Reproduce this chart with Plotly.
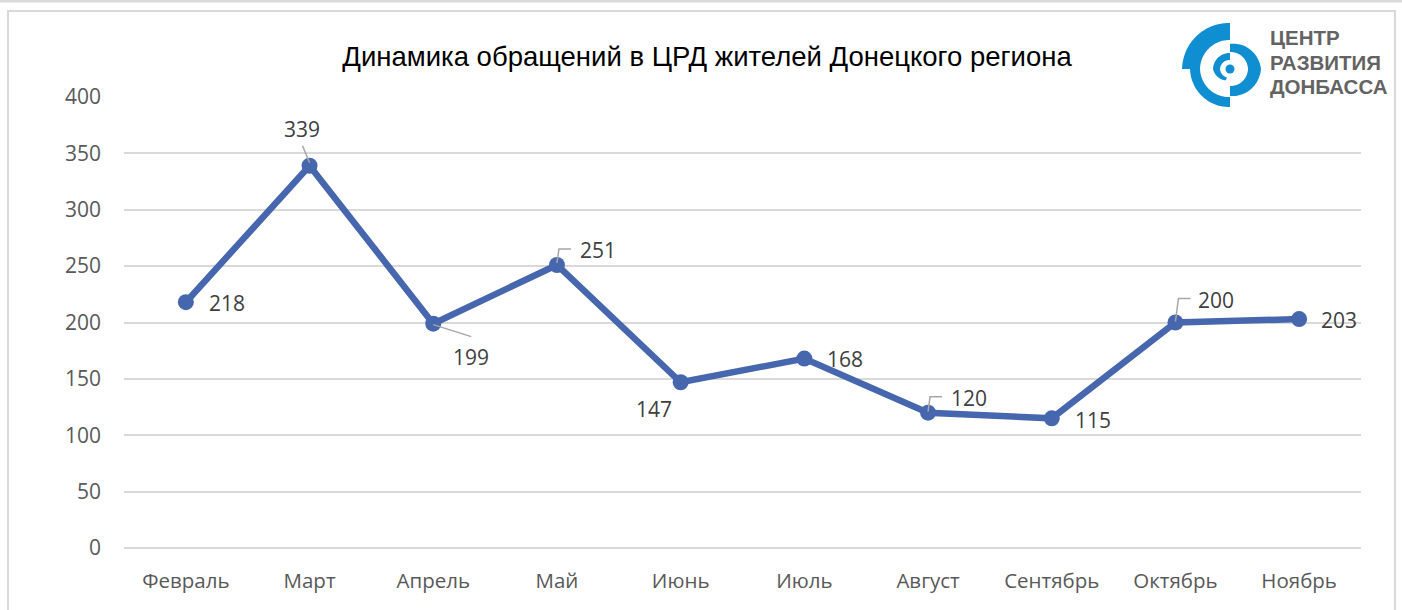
import math
import plotly.graph_objects as go

months = ["Февраль", "Март", "Апрель", "Май", "Июнь", "Июль", "Август", "Сентябрь", "Октябрь", "Ноябрь"]
values = [218, 339, 199, 251, 147, 168, 120, 115, 200, 203]
y_ticks = [0, 50, 100, 150, 200, 250, 300, 350, 400]
title_text = "Динамика обращений в ЦРД жителей Донецкого региона"
logo_lines = ["ЦЕНТР", "РАЗВИТИЯ", "ДОНБАССА"]

# label offsets from each point, in pixels (x right, y up)
label_dx = [41, -8, 38, 41, -27, 41, 41, 41, 41, 40]
label_dy = [-1, 37, -33, 15, -27, 0, 15, -2, 23, -1]
# leader lines, in pixels from the point
leaders = {
    1: [(0, 3), (-7, 20)],
    2: [(0, -1), (38, -13)],
    3: [(0, 2), (2, 16), (14, 16)],
    6: [(0, 1), (2, 16), (14, 16)],
    8: [(0, 1), (3, 24), (15, 24)],
}

W, H = 1402, 610
ML, MR, MT, MB = 124, 41, 97, 62
BLUE = "#4667AE"
LOGO = "#0F8FD2"
GRID = "#D9D9D9"


def px(x):
    return (x - ML) / (W - ML - MR)


def py(y):
    return 1 - (y - MT) / (H - MT - MB)


def sector(cx, cy, r_out, r_in, a0, a1):
    """Annular sector in page pixels, as a paper-referenced SVG path."""
    n = 24
    pts = []
    for i in range(n + 1):
        t = a0 + (a1 - a0) * i / n
        r = r_out[0] + (r_out[1] - r_out[0]) * i / n
        pts.append((cx + r * math.cos(math.radians(t)), cy - r * math.sin(math.radians(t))))
    for i in range(n, -1, -1):
        t = a0 + (a1 - a0) * i / n
        r = r_in[0] + (r_in[1] - r_in[0]) * i / n
        pts.append((cx + r * math.cos(math.radians(t)), cy - r * math.sin(math.radians(t))))
    return "M" + " L".join(f"{px(a):.5f},{py(b):.5f}" for a, b in pts) + " Z"


fig = go.Figure()
fig.add_trace(go.Scatter(
    x=list(range(len(months))), y=values, mode="lines+markers",
    line=dict(color=BLUE, width=6.5), marker=dict(color=BLUE, size=16),
    hoverinfo="skip", cliponaxis=False,
))

shapes = []
# frame
shapes.append(dict(type="line", xref="paper", yref="paper", x0=px(0), x1=px(W), y0=py(1), y1=py(1),
                   line=dict(color=GRID, width=3), layer="above"))
shapes.append(dict(type="path", xref="paper", yref="paper",
                   path=f"M{px(8)},{py(H + 5)} L{px(8)},{py(11)} L{px(1395)},{py(11)} L{px(1395)},{py(H + 5)}",
                   line=dict(color=GRID, width=2), layer="above"))
# patch behind the logo
shapes.append(dict(type="rect", xref="paper", yref="paper", x0=px(1182), x1=px(1390), y0=py(20), y1=py(110),
                   fillcolor="white", line=dict(width=0), layer="above"))
# logo
cx, cy = 1230, 69
for ro, ri, a0, a1 in [
    ((46, 48), (29, 30), 90, 180),
    ((40, 38), (30, 28), 180, 270),
    ((25, 31), (17, 18), 90, 0),
    ((31, 27), (18, 17), 0, -90),
    ((16, 17), (9, 10), 90, 180),
    ((17, 12), (10, 9), 180, 250),
]:
    shapes.append(dict(type="path", xref="paper", yref="paper", path=sector(cx, cy, ro, ri, a0, a1),
                       fillcolor=LOGO, line=dict(width=0), layer="above"))
shapes.append(dict(type="circle", xref="paper", yref="paper", x0=px(cx - 4.5), x1=px(cx + 4.5),
                   y0=py(cy + 4.5), y1=py(cy - 4.5), fillcolor=LOGO, line=dict(width=0), layer="above"))
# leaders, anchored on the data points
for i, pts in leaders.items():
    path = "M" + " L".join(f"{a},{b}" for a, b in pts)
    shapes.append(dict(type="path", xref="x", yref="y", xsizemode="pixel", ysizemode="pixel",
                       xanchor=i, yanchor=values[i], path=path,
                       line=dict(color="#A6A6A6", width=1.5), layer="above"))

annotations = [
    dict(x=i, y=v, xref="x", yref="y", text=str(v), showarrow=False, xshift=dx, yshift=dy,
         font=dict(family="Open Sans", size=21, color="#404040"), xanchor="center", yanchor="middle")
    for i, (v, dx, dy) in enumerate(zip(values, label_dx, label_dy))
]
for line, y in zip(logo_lines, [38, 63, 87]):
    annotations.append(dict(x=px(1268), y=py(y), xref="paper", yref="paper", text=line, showarrow=False,
                            xanchor="left", yanchor="middle",
                            font=dict(family="Liberation Sans", size=20.5, color="#636363", weight=700)))

fig.update_layout(
    width=W, height=H, autosize=False,
    margin=dict(l=ML, r=MR, t=MT, b=MB, pad=0),
    paper_bgcolor="white", plot_bgcolor="white", showlegend=False,
    title=dict(text=title_text, x=707 / W, xanchor="center", y=1 - 56 / H, yanchor="middle",
               font=dict(family="Liberation Sans", size=27.5, color="#000000")),
    xaxis=dict(range=[-0.5, 9.5], tickmode="array", tickvals=list(range(len(months))), ticktext=months,
               showgrid=False, zeroline=False, showline=False, ticks="", ticklabelstandoff=18,
               tickfont=dict(family="Open Sans", size=20.5, color="#595959")),
    yaxis=dict(range=[0, 400], tickmode="array", tickvals=y_ticks, showgrid=True, gridcolor=GRID, gridwidth=2,
               zeroline=True, zerolinecolor=GRID, zerolinewidth=2, showline=False, ticks="", ticklabelstandoff=22,
               tickfont=dict(family="Open Sans", size=21, color="#595959")),
    shapes=shapes, annotations=annotations,
)

fig.write_html("out.html", config={"displayModeBar": False}, post_script="document.body.style.margin='0';")
